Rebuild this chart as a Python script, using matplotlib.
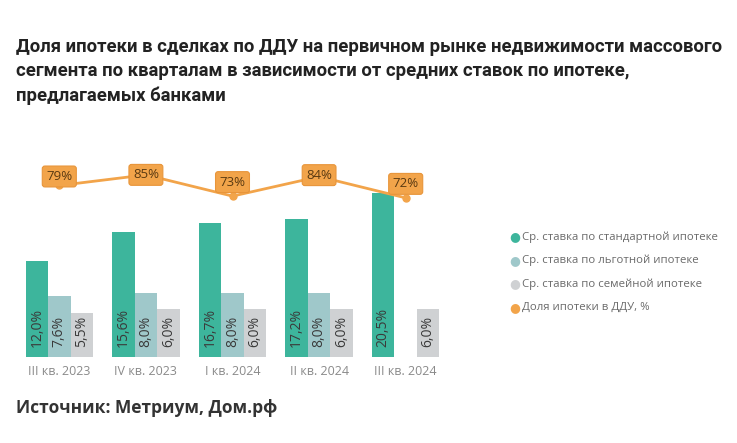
import numpy as np
import matplotlib.pyplot as plt

plt.rcParams['font.family'] = ['Open Sans', 'DejaVu Sans']

quarters = ['III кв. 2023', 'IV кв. 2023', 'I кв. 2024', 'II кв. 2024', 'III кв. 2024']
standard = [12.0, 15.6, 16.7, 17.2, 20.5]
preferential = [7.6, 8.0, 8.0, 8.0, None]
family = [5.5, 6.0, 6.0, 6.0, 6.0]
share = [79, 85, 73, 84, 72]

series_names = ['Ср. ставка по стандартной ипотеке', 'Ср. ставка по льготной ипотеке',
                'Ср. ставка по семейной ипотеке', 'Доля ипотеки в ДДУ, %']

c_green = '#3DB59C'
c_teal = '#9FC8CA'
c_gray = '#CFD1D3'
c_orange = '#F2A44A'

fig = plt.figure(figsize=(7.37, 4.43), dpi=100)
ax = fig.add_axes([16/737, 1-357/443, 433/737, 197/443])

x = np.arange(len(quarters))
w = 0.26
for vals, off, col in [(standard, -w, c_green), (preferential, 0, c_teal), (family, w, c_gray)]:
    for xi, v in zip(x, vals):
        if v is None:
            continue
        ax.bar(xi + off, v, width=w, color=col)
        ax.text(xi + off, 1.2, f'{v:.1f}%'.replace('.', ','), rotation=90, ha='center', va='bottom',
                fontsize=10, color='#3a3a3a')

ax.set_xlim(-0.5, 4.5)
ax.set_ylim(0, 24.6)
ax.set_xticks(x)
ax.set_xticklabels(quarters, fontsize=9, color='#8a8a8a')
ax.tick_params(axis='x', length=0, pad=6)
ax.set_yticks([])
for s in ax.spines.values():
    s.set_visible(False)

ax2 = ax.twinx()
ax2.set_ylim(-17.9, 93.4)
ax2.plot(x, share, color=c_orange, lw=2, marker='o', ms=5, zorder=3)
for xi, v in zip(x, share):
    dy = min(max((85 - v) * 1.5, 0), 14) * 0.72
    ax2.annotate(f'{v}%', (xi, v), xytext=(0, dy), textcoords='offset points', ha='center', va='center',
                 fontsize=9.5, color='#5a3a12', zorder=4,
                 bbox=dict(boxstyle='round,pad=0.3,rounding_size=0.2', fc=c_orange, ec='#E8953A', lw=0.8))
ax2.set_yticks([])
ax2.axis('off')

# legend
leg_cols = [c_green, c_teal, c_gray, c_orange]
for i, (name, col) in enumerate(zip(series_names, leg_cols)):
    yy = 1 - (237 + i*23.5)/443
    fig.text(509/737, yy, '●', color=col, fontsize=9, va='center', ha='left')
    fig.text(522/737, yy, name, color='#6a6a6a', fontsize=8.2, va='center', ha='left')

title_lines = ['Доля ипотеки в сделках по ДДУ на первичном рынке недвижимости массового',
               'сегмента по кварталам в зависимости от средних ставок по ипотеке,',
               'предлагаемых банками']
for i, line in enumerate(title_lines):
    fig.text(16/737, 1 - (47 + i*24.5)/443, line, fontsize=13.3, fontweight='bold', color='#222222',
             va='center', ha='left', family=['Roboto', 'DejaVu Sans'])

fig.text(16/737, 1 - 408/443, 'Источник: Метриум, Дом.рф', fontsize=12.5, fontweight='bold',
         color='#333333', va='center', ha='left')

fig.savefig('out.png', dpi=100)
